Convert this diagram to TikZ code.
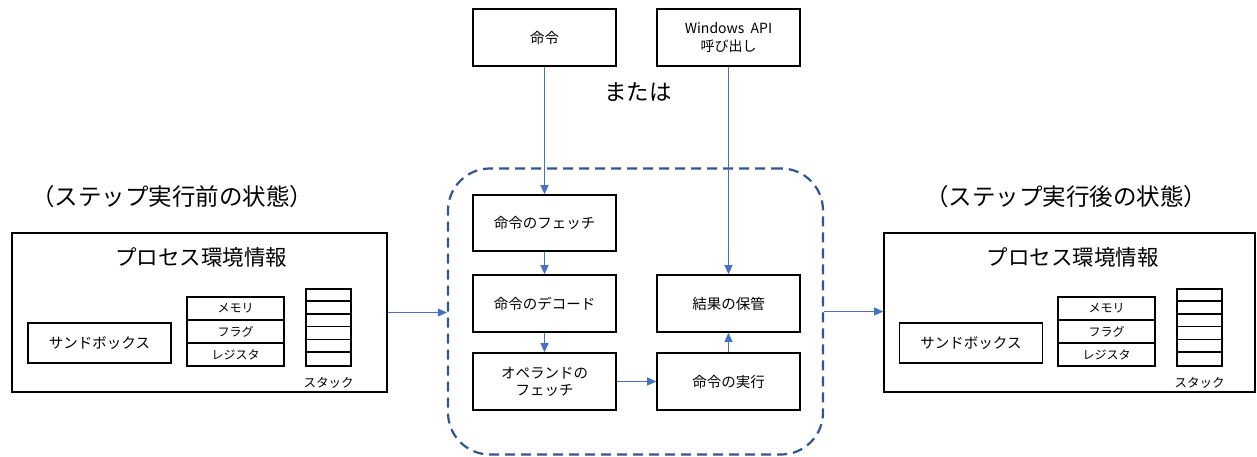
\documentclass[tikz,border=0pt]{standalone}
\usepackage{fontspec}
\setmainfont{Noto Sans CJK JP}
\usetikzlibrary{arrows.meta}
\definecolor{arrowblue}{HTML}{4472C4}
\definecolor{dashblue}{HTML}{2F5597}
\begin{document}
\begin{tikzpicture}[x=1pt,y=-1pt,
  box/.style={draw=black,line width=1.6pt,inner sep=0pt,align=center,font=\fontsize{14.5}{17}\selectfont},
  small/.style={draw=black,line width=1.4pt,inner sep=0pt,align=center,font=\fontsize{12}{13}\selectfont,minimum width=97pt,minimum height=23pt},
  stackbox/.style={draw=black,line width=1.8pt,inner sep=0pt,minimum width=45pt,minimum height=77pt},
  stackline/.style={draw=black,line width=1.8pt},
  bigtxt/.style={font=\fontsize{23.5}{26}\selectfont,inner sep=0pt},
  flow/.style={draw=arrowblue,line width=0.9pt,-{Triangle[length=9pt,width=8pt]}},
  lab/.style={font=\fontsize{12.5}{14}\selectfont,inner sep=0pt}]
\useasboundingbox (0,0) rectangle (1257,457);
% left process environment
\node[bigtxt] (tl) at (172,197) {（ステップ実行前の状態）};
\node[box,minimum width=375pt,minimum height=159pt] (lbox) at (199.5,312.5) {};
\node[bigtxt,font=\fontsize{21.5}{24}\selectfont] (lpt) at (201,257) {プロセス環境情報};
\node[box,minimum width=143pt,minimum height=40pt] (lsb) at (99.5,343) {サンドボックス};
\node[small] (lm1) at (235.5,308.5) {メモリ};
\node[small] (lm2) at (235.5,331.5) {フラグ};
\node[small] (lm3) at (235.5,354.5) {レジスタ};
\node[stackbox] (lst) at (328.5,327.5) {};
\foreach \i in {1,...,5}{\draw[stackline] ([yshift={-12.83pt*\i}]lst.north west) -- ([yshift={-12.83pt*\i}]lst.north east);}
\node[lab] (lsl) at (328.5,383) {スタック};
% right process environment
\node[bigtxt] (tr) at (1066,197) {（ステップ実行後の状態）};
\node[box,minimum width=371pt,minimum height=159pt] (rbox) at (1069.5,312.5) {};
\node[bigtxt,font=\fontsize{21.5}{24}\selectfont] (rpt) at (1072.5,257) {プロセス環境情報};
\node[box,minimum width=143pt,minimum height=40pt] (rsb) at (971,343) {サンドボックス};
\node[small] (rm1) at (1106.5,308.5) {メモリ};
\node[small] (rm2) at (1106.5,331.5) {フラグ};
\node[small] (rm3) at (1106.5,354.5) {レジスタ};
\node[stackbox] (rst) at (1199.5,327.5) {};
\foreach \i in {1,...,5}{\draw[stackline] ([yshift={-12.83pt*\i}]rst.north west) -- ([yshift={-12.83pt*\i}]rst.north east);}
\node[lab] (rsl) at (1199.5,383) {スタック};
% center
\node[draw=dashblue,line width=2.2pt,dash pattern=on 10pt off 6pt,rounded corners=42pt,minimum width=375pt,minimum height=286pt,inner sep=0pt] (cyc) at (635.5,311.5) {};
\node[box,minimum width=143pt,minimum height=57pt] (cmd) at (544.5,37.5) {命令};
\node[box,minimum width=143pt,minimum height=57pt,font=\fontsize{14}{18}\selectfont] (api) at (728.5,37.5) {Windows\ \ API\\呼び出し};
\node[bigtxt,font=\fontsize{22.5}{26}\selectfont] (or) at (638,92) {または};
\node[box,minimum width=143pt,minimum height=56pt] (fetch) at (544.5,223) {命令のフェッチ};
\node[box,minimum width=143pt,minimum height=57pt] (decode) at (544.5,303.5) {命令のデコード};
\node[box,minimum width=143pt,minimum height=57pt] (operand) at (544.5,381.5) {オペランドの\\フェッチ};
\node[box,minimum width=143pt,minimum height=57pt] (store) at (728.5,303.5) {結果の保管};
\node[box,minimum width=143pt,minimum height=57pt] (exec) at (728.5,381.5) {命令の実行};
% connectors
\draw[flow] (cmd.south) -- (fetch.north);
\draw[flow] (api.south) -- (store.north);
\draw[flow] (fetch.south) -- (decode.north);
\draw[flow] (decode.south) -- (operand.north);
\draw[flow] (operand.east) -- (exec.west);
\draw[flow] (exec.north) -- (store.south);
\draw[flow] (lbox.east) -- (lbox.east -| cyc.west);
\draw[flow] (cyc.east) -- (cyc.east -| rbox.west);
\end{tikzpicture}
\end{document}
